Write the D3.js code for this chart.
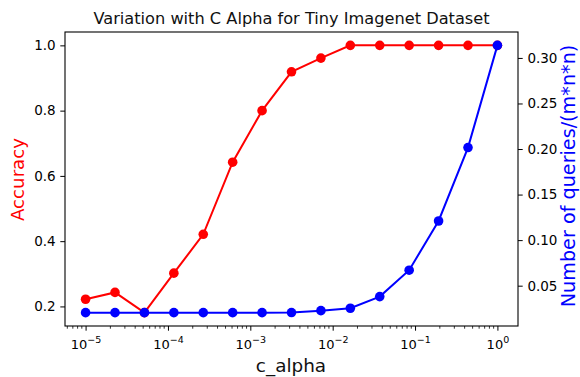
<!DOCTYPE html>
<html>
<head>
<meta charset="utf-8">
<script src="https://cdn.jsdelivr.net/npm/d3@7"></script>
<style>
  body { margin: 0; background: #fff; }
  text { font-family: "DejaVu Sans", sans-serif; }
</style>
</head>
<body>
<div id="chart"></div>
<script>
// c_alpha values (logspace -5..0, 15 points)
const cAlpha = [1e-5, 2.276e-5, 5.179e-5, 1.179e-4, 2.683e-4, 6.105e-4, 1.389e-3,
  3.162e-3, 7.197e-3, 1.638e-2, 3.728e-2, 8.483e-2, 1.931e-1, 4.394e-1, 1.0];
const accuracy = [0.222, 0.243, 0.181, 0.302, 0.421, 0.642, 0.80, 0.919, 0.961,
  1.0, 1.0, 1.0, 1.0, 1.0, 1.0];
const queries = [0.0204, 0.0204, 0.0204, 0.0204, 0.0204, 0.0204, 0.0204, 0.0205,
  0.0226, 0.0252, 0.038, 0.067, 0.121, 0.2016, 0.3138];
const xTicks = [1e-5, 1e-4, 1e-3, 1e-2, 1e-1, 1e0];
const accTicks = [0.2, 0.4, 0.6, 0.8, 1.0];
const qTicks = [0.05, 0.10, 0.15, 0.20, 0.25, 0.30];

const width = 580, height = 377;
const mLeft = 65, mRight = 518, mTop = 32, mBottom = 326;

const svg = d3.select('#chart').append('svg')
  .attr('width', width)
  .attr('height', height);

// log x with matplotlib-like 5% margins
const x = d3.scaleLog().domain([Math.pow(10, -5.25), Math.pow(10, 0.25)]).range([mLeft, mRight]);

const accPad = (1.0 - 0.181) * 0.05;
const yAcc = d3.scaleLinear().domain([0.181 - accPad, 1.0 + accPad]).range([mBottom, mTop]);
const qMin = d3.min(queries), qMax = d3.max(queries);
const qPad = (qMax - qMin) * 0.05;
const yQ = d3.scaleLinear().domain([qMin - qPad, qMax + qPad]).range([mBottom, mTop]);

// minor ticks
const minor = [];
for (let e = -6; e <= 0; e++) {
  for (let m = 2; m <= 9; m++) {
    const v = m * Math.pow(10, e);
    if (v >= x.domain()[0] && v <= x.domain()[1]) minor.push(v);
  }
}

const tickLen = 4.7, tickPad = 4.7;

const axisX = d3.axisBottom(x).tickValues(xTicks).tickSize(tickLen).tickPadding(tickPad)
  .tickFormat(() => '');
const gx = svg.append('g').attr('transform', `translate(0, ${mBottom})`).call(axisX);
gx.selectAll('.tick text').remove();
gx.selectAll('.tick').each(function (d) {
  const e = Math.round(Math.log10(d));
  const t = d3.select(this).append('text')
    .attr('y', 23).attr('fill', '#000').attr('text-anchor', 'middle')
    .style('font-size', '13px');
  t.append('tspan').text('10');
  t.append('tspan').attr('dy', -6).style('font-size', '9.5px')
    .text(String(e).replace('-', '\u2212'));
});
svg.append('g').attr('transform', `translate(0, ${mBottom})`)
  .selectAll('line').data(minor).enter().append('line')
  .attr('x1', d => x(d)).attr('x2', d => x(d))
  .attr('y1', 0).attr('y2', 2.7).attr('stroke', '#000').attr('stroke-width', 0.8);

const axisL = d3.axisLeft(yAcc).tickValues(accTicks).tickSize(tickLen).tickPadding(tickPad)
  .tickFormat(d3.format('.1f'));
svg.append('g').attr('class', 'yax').attr('transform', `translate(${mLeft}, 0)`).call(axisL);

const axisR = d3.axisRight(yQ).tickValues(qTicks).tickSize(tickLen).tickPadding(tickPad)
  .tickFormat(d3.format('.2f'));
svg.append('g').attr('class', 'yax').attr('transform', `translate(${mRight}, 0)`).call(axisR);

svg.selectAll('.domain').remove();
svg.selectAll('.yax .tick text').style('font-size', '13.5px').attr('fill', '#000');
svg.selectAll('.tick line').attr('stroke', '#000').attr('stroke-width', 1);

// frame
svg.append('rect')
  .attr('x', mLeft).attr('y', mTop)
  .attr('width', mRight - mLeft).attr('height', mBottom - mTop)
  .attr('fill', 'none').attr('stroke', '#000').attr('stroke-width', 1.1);

// series
const lineAcc = d3.line().x((d, i) => x(cAlpha[i])).y(d => yAcc(d));
const lineQ = d3.line().x((d, i) => x(cAlpha[i])).y(d => yQ(d));

svg.append('path').datum(accuracy).attr('d', lineAcc)
  .attr('fill', 'none').attr('stroke', '#ff0000').attr('stroke-width', 2);
svg.selectAll('.dotA').data(accuracy).enter().append('circle')
  .attr('cx', (d, i) => x(cAlpha[i])).attr('cy', d => yAcc(d))
  .attr('r', 4.8).attr('fill', '#ff0000');

svg.append('path').datum(queries).attr('d', lineQ)
  .attr('fill', 'none').attr('stroke', '#0000ff').attr('stroke-width', 2);
svg.selectAll('.dotQ').data(queries).enter().append('circle')
  .attr('cx', (d, i) => x(cAlpha[i])).attr('cy', d => yQ(d))
  .attr('r', 4.8).attr('fill', '#0000ff');

// text
svg.append('text')
  .attr('x', 291.5).attr('y', 24)
  .attr('text-anchor', 'middle').style('font-size', '16.2px').attr('fill', '#111')
  .text('Variation with C Alpha for Tiny Imagenet Dataset');

svg.append('text')
  .attr('x', 291).attr('y', 372)
  .attr('text-anchor', 'middle').style('font-size', '18.4px').attr('fill', '#111')
  .text('c_alpha');

svg.append('text')
  .attr('transform', `translate(23.5, 179.5) rotate(-90)`)
  .attr('text-anchor', 'middle').attr('fill', '#ff0000').style('font-size', '18.2px')
  .text('Accuracy');

svg.append('text')
  .attr('transform', `translate(575, 176) rotate(-90)`)
  .attr('text-anchor', 'middle').attr('fill', '#0000ff').style('font-size', '19.2px')
  .text('Number of queries/(m*n*n)');
</script>
</body>
</html>
